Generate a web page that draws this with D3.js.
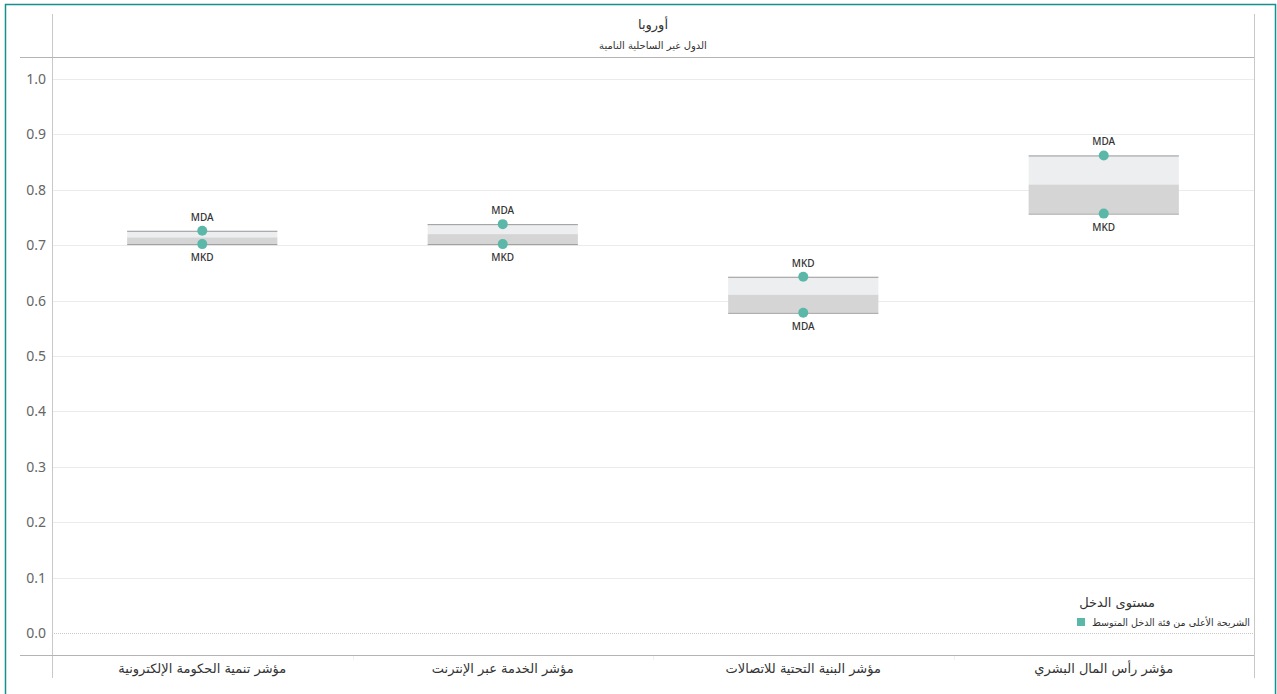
<!DOCTYPE html>
<html><head><meta charset="utf-8">
<script src="https://cdn.jsdelivr.net/npm/d3@7"></script>
<style>body{margin:0;background:#fff}svg{display:block}</style>
</head><body>
<script>
const categories = ["مؤشر تنمية الحكومة الإلكترونية","مؤشر الخدمة عبر الإنترنت","مؤشر البنية التحتية للاتصالات","مؤشر رأس المال البشري"];
const mdaValues = [0.726, 0.738, 0.578, 0.862];
const mkdValues = [0.702, 0.702, 0.643, 0.757];
const yTicks = [0,0.1,0.2,0.3,0.4,0.5,0.6,0.7,0.8,0.9,1.0];
const headerTitle = "أوروبا";
const headerSub = "الدول غير الساحلية النامية";
const legendTitle = "مستوى الدخل";
const legendItem = "الشريحة الأعلى من فئة الدخل المتوسط";

const W=1277,H=694;
const svg=d3.select("body").append("svg").attr("width",W).attr("height",H);
const arFont='"DejaVu Sans", "Noto Sans", sans-serif';
const numFont='"Noto Sans", "Open Sans", sans-serif';
const teal="#5bb8a9";

svg.append("rect").attr("x",5.5).attr("y",4.5).attr("width",1270).attr("height",700)
  .attr("fill","none").attr("stroke","#14918b").attr("stroke-width",1.5);

const left=52,right=1254;
const x=d3.scaleBand().domain(categories).range([left,right]);
const y=d3.scaleLinear().domain([0,1]).range([633,79]);

// gridlines
svg.append("g").selectAll("line").data(yTicks).join("line")
  .attr("x1",left).attr("x2",right).attr("y1",d=>Math.round(y(d))+0.5).attr("y2",d=>Math.round(y(d))+0.5)
  .attr("stroke",d=>d===0?"#c8c8c8":"#ebebeb").attr("stroke-dasharray",d=>d===0?"1,1":null);

// axis
const ax=d3.axisLeft(y).tickValues(yTicks).tickFormat(d3.format(".1f")).tickSize(0).tickPadding(6);
const gy=svg.append("g").attr("transform",`translate(${left},0)`).call(ax);
gy.select(".domain").remove();
gy.selectAll("text").attr("font-family",numFont).attr("font-size",14).attr("fill","#666");

// frame lines
svg.append("line").attr("x1",left+0.5).attr("x2",left+0.5).attr("y1",14).attr("y2",678).attr("stroke","#c8c8c8");
svg.append("line").attr("x1",right+0.5).attr("x2",right+0.5).attr("y1",14).attr("y2",678).attr("stroke","#c8c8c8");
svg.append("line").attr("x1",20).attr("x2",right).attr("y1",57.5).attr("y2",57.5).attr("stroke","#b4b4b4");
svg.append("line").attr("x1",20).attr("x2",right).attr("y1",655.5).attr("y2",655.5).attr("stroke","#b4b4b4");
svg.append("g").selectAll("line").data(categories.slice(1)).join("line")
  .attr("x1",d=>Math.round(x(d))+0.5).attr("x2",d=>Math.round(x(d))+0.5).attr("y1",656).attr("y2",660).attr("stroke","#f0f0f0");

// header
svg.append("text").attr("x",(left+right)/2).attr("y",29).attr("text-anchor","middle")
  .attr("font-family",arFont).attr("font-size",13).attr("fill","#333").text(headerTitle);
svg.append("text").attr("x",(left+right)/2).attr("y",49).attr("text-anchor","middle")
  .attr("font-family",arFont).attr("font-size",10).attr("fill","#333").text(headerSub);

// bands
const data=categories.map((c,i)=>({c,mda:mdaValues[i],mkd:mkdValues[i]}));
const bw=x.bandwidth()/2;
const g=svg.append("g");
data.forEach(d=>{
  const hi=Math.max(d.mda,d.mkd), lo=Math.min(d.mda,d.mkd), avg=(hi+lo)/2;
  const cx=x(d.c)+x.bandwidth()/2, x0=cx-bw/2;
  g.append("rect").attr("x",x0).attr("width",bw).attr("y",y(hi)).attr("height",y(avg)-y(hi)).attr("fill","#eceeef");
  g.append("rect").attr("x",x0).attr("width",bw).attr("y",y(avg)).attr("height",y(lo)-y(avg)).attr("fill","#d5d5d5");
  [hi,lo].forEach(v=>g.append("line").attr("x1",x0).attr("x2",x0+bw).attr("y1",y(v)+0.5).attr("y2",y(v)+0.5).attr("stroke","#9a9a9a"));
  [["MDA",d.mda],["MKD",d.mkd]].forEach(([lab,v])=>{
    g.append("circle").attr("cx",cx).attr("cy",y(v)).attr("r",5).attr("fill",teal);
    const top=v===hi;
    g.append("text").attr("x",cx).attr("y",top?y(v)-10:y(v)+17).attr("text-anchor","middle")
      .attr("font-family",numFont).attr("font-size",10).attr("font-weight",500).attr("fill","#333").text(lab);
  });
});

// category labels
svg.append("g").selectAll("text").data(categories).join("text")
  .attr("x",d=>x(d)+x.bandwidth()/2).attr("y",673).attr("text-anchor","middle")
  .attr("font-family",arFont).attr("font-size",13).attr("fill","#333").text(d=>d);

// legend
svg.append("text").attr("x",1155).attr("y",607).attr("text-anchor","end")
  .attr("font-family",arFont).attr("font-size",13).attr("fill","#333").text(legendTitle);
svg.append("rect").attr("x",1077).attr("y",618).attr("width",8).attr("height",8).attr("fill",teal);
svg.append("text").attr("x",1250).attr("y",626).attr("text-anchor","end")
  .attr("font-family",arFont).attr("font-size",10).attr("fill","#333")
  .attr("textLength",158).attr("lengthAdjust","spacingAndGlyphs").text(legendItem);
</script>
</body></html>
